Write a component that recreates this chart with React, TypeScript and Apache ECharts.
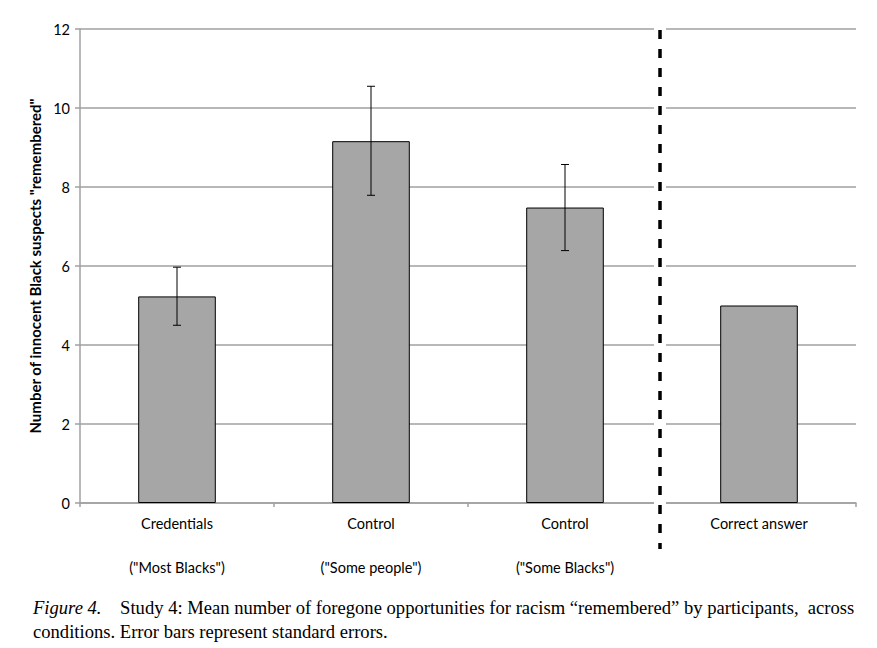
import React, { useEffect, useRef } from "react";
import * as echarts from "echarts";

const categories = [
  'Credentials\n\n("Most Blacks")',
  'Control\n\n("Some people")',
  'Control\n\n("Some Blacks")',
  "Correct answer",
];
const means = [5.23, 9.16, 7.48, 5.0];
const errLow = [4.5, 7.79, 6.39, null];
const errHigh = [5.97, 10.55, 8.57, null];
const yTicks = { min: 0, max: 12, interval: 2 };
const dividerAfterIndex = 2;

const sans = "Lato, 'Open Sans', sans-serif";
const serif = "'Liberation Serif', 'Times New Roman', serif";

export default function App() {
  const ref = useRef<HTMLDivElement>(null);
  useEffect(() => {
    if (!ref.current) return;
    const chart = echarts.init(ref.current, null, { renderer: "svg" });
    const errData = errLow
      .map((lo, i) => (lo == null ? null : [i, lo, errHigh[i]]))
      .filter((d) => d != null);
    chart.setOption({
      animation: false,
      backgroundColor: "#fff",
      grid: { left: 80, right: 21, top: 29, bottom: 145, containLabel: false },
      xAxis: {
        type: "category",
        data: categories,
        axisLine: { lineStyle: { color: "#a0a0a0", width: 1.5 } },
        axisTick: { show: true, alignWithLabel: false, length: 4, lineStyle: { color: "#a0a0a0", width: 1.5 } },
        axisLabel: {
          color: "#000",
          fontFamily: sans,
          fontSize: 14.5,
          lineHeight: 22,
          margin: 9,
          interval: 0,
        },
      },
      yAxis: {
        type: "value",
        min: yTicks.min,
        max: yTicks.max,
        interval: yTicks.interval,
        name: 'Number of innocent Black suspects "remembered"',
        nameLocation: "middle",
        nameGap: 37,
        nameTextStyle: {
          color: "#000",
          fontFamily: sans,
          fontWeight: "bold",
          fontSize: 15,
        },
        axisLine: { show: true, lineStyle: { color: "#a0a0a0", width: 1.5 } },
        axisTick: { show: true, length: 5, lineStyle: { color: "#a0a0a0", width: 1.5 } },
        axisLabel: {
          color: "#000",
          fontFamily: sans,
          fontSize: 14.5,
          margin: 10,
        },
        splitLine: { show: true, lineStyle: { color: "#a0a0a0", width: 1.5 } },
      },
      series: [
        {
          type: "bar",
          data: means,
          barWidth: "40%",
          itemStyle: { color: "#a6a6a6", borderColor: "#000", borderWidth: 1 },
          z: 2,
        },
        {
          type: "custom",
          data: errData,
          z: 3,
          renderItem: (params: any, api: any) => {
            const x = api.coord([api.value(0), 0])[0];
            const lo = api.coord([api.value(0), api.value(1)])[1];
            const hi = api.coord([api.value(0), api.value(2)])[1];
            const cap = 4;
            const style = { stroke: "#000", lineWidth: 1 };
            return {
              type: "group",
              children: [
                { type: "line", shape: { x1: x, y1: lo, x2: x, y2: hi }, style },
                { type: "line", shape: { x1: x - cap, y1: lo, x2: x + cap, y2: lo }, style },
                { type: "line", shape: { x1: x - cap, y1: hi, x2: x + cap, y2: hi }, style },
              ],
            };
          },
        },
        {
          type: "custom",
          data: [[dividerAfterIndex]],
          z: 4,
          clip: false,
          renderItem: (params: any, api: any) => {
            const i = api.value(0);
            const xa = api.coord([i, 0])[0];
            const xb = api.coord([i + 1, 0])[0];
            const x = (xa + xb) / 2 - 2;
            const yTop = api.coord([i, yTicks.max])[1];
            const yBot = api.coord([i, 0])[1];
            return {
              type: "group",
              children: [
                {
                  type: "rect",
                  shape: { x: x - 6, y: yTop - 2, width: 12, height: yBot - yTop + 6 },
                  style: { fill: "#fff" },
                },
                {
                  type: "line",
                  shape: { x1: x, y1: yTop + 1, x2: x, y2: yBot + 46 },
                  style: { stroke: "#000", lineWidth: 3.5, lineDash: [9, 10] },
                },
              ],
            };
          },
        },
      ],
      graphic: [
        {
          type: "text",
          left: 33,
          top: 598,
          style: {
            text: "{i|Figure 4.}{n|    Study 4: Mean number of foregone opportunities for racism \u201cremembered\u201d by participants,  across}",
            rich: {
              i: { fontStyle: "italic", fontFamily: serif, fontSize: 18.6, fill: "#000" },
              n: { fontFamily: serif, fontSize: 18.6, fill: "#000" },
            },
          },
        },
        {
          type: "text",
          left: 33,
          top: 622,
          style: {
            text: "conditions. Error bars represent standard errors.",
            fontFamily: serif,
            fontSize: 18.6,
            fill: "#000",
          },
        },
      ],
    });
    return () => chart.dispose();
  }, []);
  return (
    <div
      ref={ref}
      style={{ position: "absolute", left: 0, top: 0, width: 877, height: 648 }}
    />
  );
}
